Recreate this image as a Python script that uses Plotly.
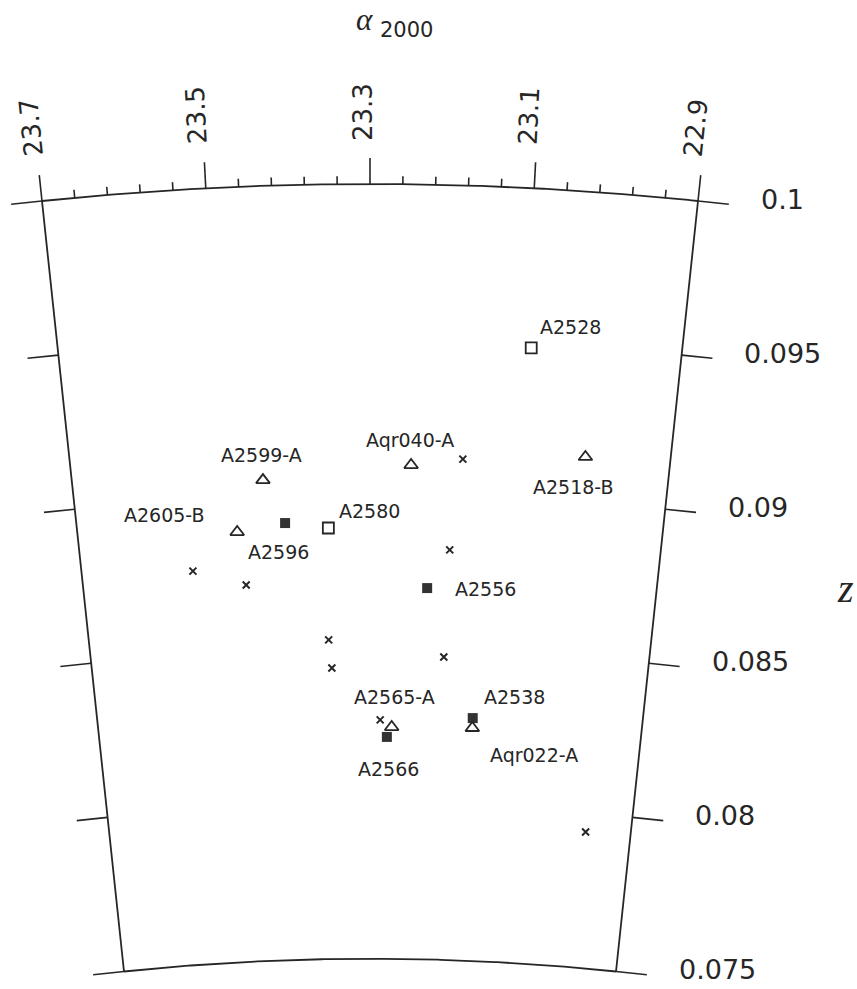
import numpy as np
import plotly.graph_objects as go

# ---------------- data (RA in hours, redshift z) ----------------
open_sq_names = ["A2528", "A2580"]
open_sq_ra = [23.093, 23.357]
open_sq_z = [0.09485, 0.08891]

filled_sq_names = ["A2596", "A2556", "A2538", "A2566"]
filled_sq_ra = [23.416, 23.220, 23.149, 23.275]
filled_sq_z = [0.08910, 0.08698, 0.08283, 0.08216]

tri_names = ["A2599-A", "A2605-B", "Aqr040-A", "A2518-B", "A2565-A", "Aqr022-A"]
tri_ra = [23.444, 23.482, 23.245, 23.013, 23.268, 23.149]
tri_z = [0.09051, 0.08887, 0.09094, 0.09145, 0.08248, 0.08251]

cross_ra = [23.176, 23.190, 23.546, 23.473, 23.359, 23.355, 23.194, 23.285, 22.969]
cross_z = [0.09117, 0.08823, 0.08769, 0.08715, 0.08530, 0.08439, 0.08477, 0.08271, 0.07939]

ra_major = [23.7, 23.5, 23.3, 23.1, 22.9]
ra_major_labels = ["23.7", "23.5", "23.3", "23.1", "22.9"]
ra_minor = [23.66, 23.62, 23.58, 23.54, 23.46, 23.42, 23.38, 23.34,
            23.26, 23.22, 23.18, 23.14, 23.06, 23.02, 22.98, 22.94]
z_ticks = [0.1, 0.095, 0.09, 0.085, 0.08, 0.075]
z_tick_labels = ["0.1", "0.095", "0.09", "0.085", "0.08", "0.075"]

RA_MIN, RA_MAX = 22.9, 23.7
Z_MIN, Z_MAX = 0.075, 0.1
RA_CENTER = 23.3

# ---------------- geometry / style ----------------
W, H = 857, 989
PX_X = 31380.0   # pixels per unit (x)
PX_Y = 30990.0   # pixels per unit (y)
X0_PX = 370.0
Y0_PX = 3283.0
x_range = [(0 - X0_PX) / PX_X, (W - X0_PX) / PX_X]
y_range = [(Y0_PX - H) / PX_Y, Y0_PX / PX_Y]

INK = "#262626"
FONT = "DejaVu Sans"


def theta(ra):
    return np.radians((np.asarray(ra, dtype=float) - RA_CENTER) * 15.0)


def proj(ra, z):
    th = theta(ra)
    z = np.asarray(z, dtype=float)
    return -z * np.sin(th), z * np.cos(th)


def shift(x, y, ux, uy, length_px):
    # move a data point by length_px along screen direction (ux, uy) (uy up)
    return x + length_px * ux / PX_X, y + length_px * uy / PX_Y


fig = go.Figure()

# frame: arcs and edges
ra_arc = np.linspace(RA_MAX, RA_MIN, 200)
for zz in (Z_MAX, Z_MIN):
    ax, ay = proj(ra_arc, np.full_like(ra_arc, zz))
    fig.add_trace(go.Scatter(x=ax, y=ay, mode="lines",
                             line=dict(color=INK, width=1.8),
                             hoverinfo="skip", showlegend=False))
for ra in (RA_MAX, RA_MIN):
    ex, ey = proj([ra, ra], [Z_MIN, Z_MAX])
    fig.add_trace(go.Scatter(x=ex, y=ey, mode="lines",
                             line=dict(color=INK, width=1.8),
                             hoverinfo="skip", showlegend=False))

# ticks
tx, ty = [], []
for ra_list, length in ((ra_major, 26), (ra_minor, 8)):
    for ra in ra_list:
        th = float(theta(ra))
        x1, y1 = proj(ra, Z_MAX)
        x2, y2 = shift(x1, y1, -np.sin(th), np.cos(th), length)
        tx += [float(x1), float(x2), None]
        ty += [float(y1), float(y2), None]
for zz in z_ticks:
    for ra, sgn in ((RA_MAX, -1.0), (RA_MIN, 1.0)):
        th = float(theta(ra))
        x1, y1 = proj(ra, zz)
        # outward tangent direction
        ux, uy = sgn * np.cos(th), sgn * np.sin(th)
        x2, y2 = shift(x1, y1, ux, uy, 31)
        tx += [float(x1), float(x2), None]
        ty += [float(y1), float(y2), None]
fig.add_trace(go.Scatter(x=tx, y=ty, mode="lines",
                         line=dict(color=INK, width=1.6),
                         hoverinfo="skip", showlegend=False))

# data markers
cx, cy = proj(cross_ra, cross_z)
fig.add_trace(go.Scatter(x=cx, y=cy, mode="markers", showlegend=False,
                         marker=dict(symbol="x-thin", size=7,
                                     line=dict(color=INK, width=2))))
fx, fy = proj(filled_sq_ra, filled_sq_z)
fig.add_trace(go.Scatter(x=fx, y=fy, mode="markers", showlegend=False,
                         marker=dict(symbol="square", size=10, color="#333333",
                                     line=dict(width=0))))
ox, oy = proj(open_sq_ra, open_sq_z)
fig.add_trace(go.Scatter(x=ox, y=oy, mode="markers", showlegend=False,
                         marker=dict(symbol="square-open", size=11,
                                     color=INK, line=dict(width=1.8))))
trx, try_ = proj(tri_ra, tri_z)
fig.add_trace(go.Scatter(x=trx, y=try_, mode="markers", showlegend=False,
                         marker=dict(symbol="triangle-up-open", size=12,
                                     color=INK, line=dict(width=1.8))))

annotations = []

# object labels (pixel offsets of label centre from the marker)
label_offsets = {
    "A2528": (39, 21), "A2580": (41, 17),
    "A2596": (-7, -29), "A2556": (58, -1), "A2538": (42, 21), "A2566": (2, -32),
    "A2599-A": (-1, 25), "A2605-B": (-73, 17), "Aqr040-A": (-1, 25),
    "A2518-B": (-12, -30), "A2565-A": (3, 30), "Aqr022-A": (62, -27),
}
for names, xs, ys in ((open_sq_names, ox, oy), (filled_sq_names, fx, fy),
                      (tri_names, trx, try_)):
    for nm, xx, yy in zip(names, xs, ys):
        dx, dy = label_offsets[nm]
        annotations.append(dict(x=float(xx), y=float(yy), xref="x", yref="y",
                                text=nm, showarrow=False, xanchor="center",
                                yanchor="middle", xshift=dx, yshift=dy,
                                font=dict(family=FONT, size=19, color=INK)))

# RA tick labels (rotated along radial direction)
for ra, lab in zip(ra_major, ra_major_labels):
    th = float(theta(ra))
    x1, y1 = proj(ra, Z_MAX)
    x2, y2 = shift(x1, y1, -np.sin(th), np.cos(th), 26 + 15)
    annotations.append(dict(x=float(x2), y=float(y2), xref="x", yref="y",
                            text=lab, showarrow=False, textangle=-90 - np.degrees(th),
                            xanchor="center", yanchor="bottom", xshift=-7,
                            font=dict(family=FONT, size=26, color=INK)))

# z tick labels on the right edge
for zz, lab in zip(z_ticks, z_tick_labels):
    th = float(theta(RA_MIN))
    x1, y1 = proj(RA_MIN, zz)
    x2, y2 = shift(x1, y1, np.cos(th), np.sin(th), 31)
    annotations.append(dict(x=float(x2), y=float(y2), xref="x", yref="y",
                            text=lab, showarrow=False, xanchor="left",
                            yanchor="middle", xshift=30, yshift=5,
                            font=dict(family=FONT, size=27, color=INK)))

# axis titles
annotations.append(dict(x=364 / W, y=1.0, xref="paper", yref="paper",
                        text="<i>α</i>", showarrow=False, xanchor="center",
                        yanchor="top",
                        font=dict(family="Liberation Serif", size=31, color=INK)))
annotations.append(dict(x=406 / W, y=1 - 29.5 / H, xref="paper", yref="paper",
                        text="2000", showarrow=False, xanchor="center",
                        yanchor="middle",
                        font=dict(family=FONT, size=21, color=INK)))
annotations.append(dict(x=845.5 / W, y=1 - 588.5 / H, xref="paper", yref="paper",
                        text="<i>z</i>", showarrow=False, xanchor="center",
                        yanchor="middle",
                        font=dict(family="Liberation Serif", size=40, color=INK)))

fig.update_layout(
    width=W, height=H, autosize=False,
    margin=dict(l=0, r=0, t=0, b=0),
    paper_bgcolor="white", plot_bgcolor="white",
    xaxis=dict(range=x_range, visible=False, fixedrange=True),
    yaxis=dict(range=y_range, visible=False, fixedrange=True),
    annotations=annotations,
)

fig.write_html("out.html")
